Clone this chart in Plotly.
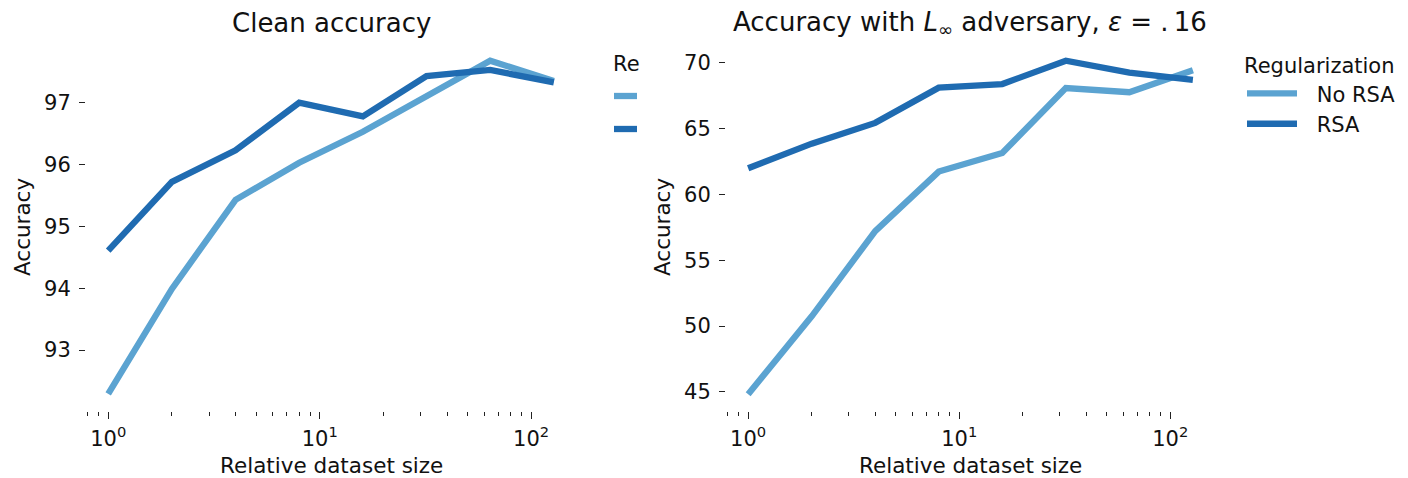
import plotly.graph_objects as go

# ---- data ----
sizes = [1, 2, 4, 8, 16, 32, 64, 128]
clean_no_rsa = [92.29, 93.99, 95.43, 96.03, 96.53, 97.10, 97.68, 97.35]
clean_rsa = [94.61, 95.72, 96.23, 97.00, 96.78, 97.43, 97.53, 97.33]
adv_no_rsa = [44.82, 50.74, 57.21, 61.73, 63.15, 68.07, 67.76, 69.42]
adv_rsa = [61.98, 63.85, 65.43, 68.10, 68.38, 70.15, 69.24, 68.70]
series_names = ["No RSA", "RSA"]
colors = ["#5ba3d1", "#1f6bb1"]
x_major = [1, 10, 100]
x_major_text = ["10<sup>0</sup>", "10<sup>1</sup>", "10<sup>2</sup>"]
x_minor = [0.8, 0.9, 2, 3, 4, 5, 6, 7, 8, 9, 20, 30, 40, 50, 60, 70, 80, 90]
y_left_ticks = [93, 94, 95, 96, 97]
y_right_ticks = [45, 50, 55, 60, 65, 70]

FONT = "DejaVu Sans"
W, H = 1408, 478
LW = 6.3

fig = go.Figure()
for vals, name, col in zip([clean_no_rsa, clean_rsa], series_names, colors):
    fig.add_trace(go.Scatter(x=sizes, y=vals, mode="lines", name=name,
                             line=dict(color=col, width=LW),
                             xaxis="x", yaxis="y", showlegend=False))
for vals, name, col in zip([adv_no_rsa, adv_rsa], series_names, colors):
    fig.add_trace(go.Scatter(x=sizes, y=vals, mode="lines", name="\u2002\u2009" + name,
                             line=dict(color=col, width=LW),
                             xaxis="x2", yaxis="y2", showlegend=True))

def px_x(p):
    return p / W

def px_y(p):
    return 1 - p / H

xdom1 = [px_x(86), px_x(576)]
xdom2 = [px_x(726), px_x(1215)]
ydom = [px_y(411), px_y(44)]

xaxis_common = dict(
    type="log", range=[-0.105, 2.212],
    tickmode="array", tickvals=x_major, ticktext=x_major_text,
    ticks="outside", ticklen=7, tickwidth=1.3, tickcolor="#222",
    showline=False, showgrid=False, zeroline=False,
    tickfont=dict(family=FONT, size=21, color="#111"),
    minor=dict(tickmode="array", tickvals=x_minor, ticks="outside",
               ticklen=4, tickwidth=1, tickcolor="#222", showgrid=False),
    ticklabelstandoff=2,
)
yaxis_common = dict(
    tickmode="array",
    ticks="outside", ticklen=6, tickwidth=1.3, tickcolor="#222",
    showline=False, showgrid=False, zeroline=False,
    tickfont=dict(family=FONT, size=21, color="#111"),
    ticklabelstandoff=4,
)

fig.update_layout(
    width=W, height=H,
    margin=dict(l=0, r=0, t=0, b=0),
    paper_bgcolor="white", plot_bgcolor="white",
    font=dict(family=FONT, size=21, color="#111"),
    xaxis=dict(domain=xdom1, anchor="y", **xaxis_common),
    yaxis=dict(domain=ydom, anchor="x", range=[92.015, 97.95],
               tickvals=y_left_ticks, **yaxis_common),
    xaxis2=dict(domain=xdom2, anchor="y2", **xaxis_common),
    yaxis2=dict(domain=ydom, anchor="x2", range=[43.55, 71.42],
                tickvals=y_right_ticks, **yaxis_common),
    legend=dict(
        title=dict(text="Regularization", font=dict(family=FONT, size=21)),
        x=px_x(1242), y=px_y(46), xanchor="left", yanchor="top",
        font=dict(family=FONT, size=21),
        itemwidth=50, bgcolor="rgba(0,0,0,0)", tracegroupgap=0,
    ),
    showlegend=True,
)

ann = []
# titles
ann.append(dict(text="Clean accuracy", x=(xdom1[0] + xdom1[1]) / 2, y=px_y(23),
                xref="paper", yref="paper", showarrow=False, xanchor="center",
                yanchor="middle", font=dict(family=FONT, size=26, color="#111")))
ann.append(dict(text="Accuracy with <i>L</i><sub>∞</sub> adversary, <i>ε</i> = .\u200916",
                x=(xdom2[0] + xdom2[1]) / 2, y=px_y(23),
                xref="paper", yref="paper", showarrow=False, xanchor="center",
                yanchor="middle", font=dict(family=FONT, size=26, color="#111")))
# axis titles
for xc in [(xdom1[0] + xdom1[1]) / 2, (xdom2[0] + xdom2[1]) / 2]:
    ann.append(dict(text="Relative dataset size", x=xc, y=px_y(465),
                    xref="paper", yref="paper", showarrow=False, xanchor="center",
                    yanchor="middle", font=dict(family=FONT, size=21.5, color="#111")))
for xp in [22, 662]:
    ann.append(dict(text="Accuracy", x=px_x(xp), y=px_y(227), textangle=-90,
                    xref="paper", yref="paper", showarrow=False, xanchor="center",
                    yanchor="middle", font=dict(family=FONT, size=21.5, color="#111")))
# clipped legend of the left panel
ann.append(dict(text="Re", x=px_x(611), y=px_y(64), xref="paper", yref="paper",
                showarrow=False, xanchor="left", yanchor="middle",
                font=dict(family=FONT, size=21, color="#111")))
fig.update_layout(annotations=ann)

shapes = []
for yy, col in zip([96, 129], colors):
    shapes.append(dict(type="line", xref="paper", yref="paper",
                       x0=px_x(614), x1=px_x(637), y0=px_y(yy), y1=px_y(yy),
                       line=dict(color=col, width=LW)))
fig.update_layout(shapes=shapes)

fig.write_html(
    "out.html",
    config={"displayModeBar": False},
    post_script="document.body.style.margin='0';document.body.style.overflow='hidden';",
)
